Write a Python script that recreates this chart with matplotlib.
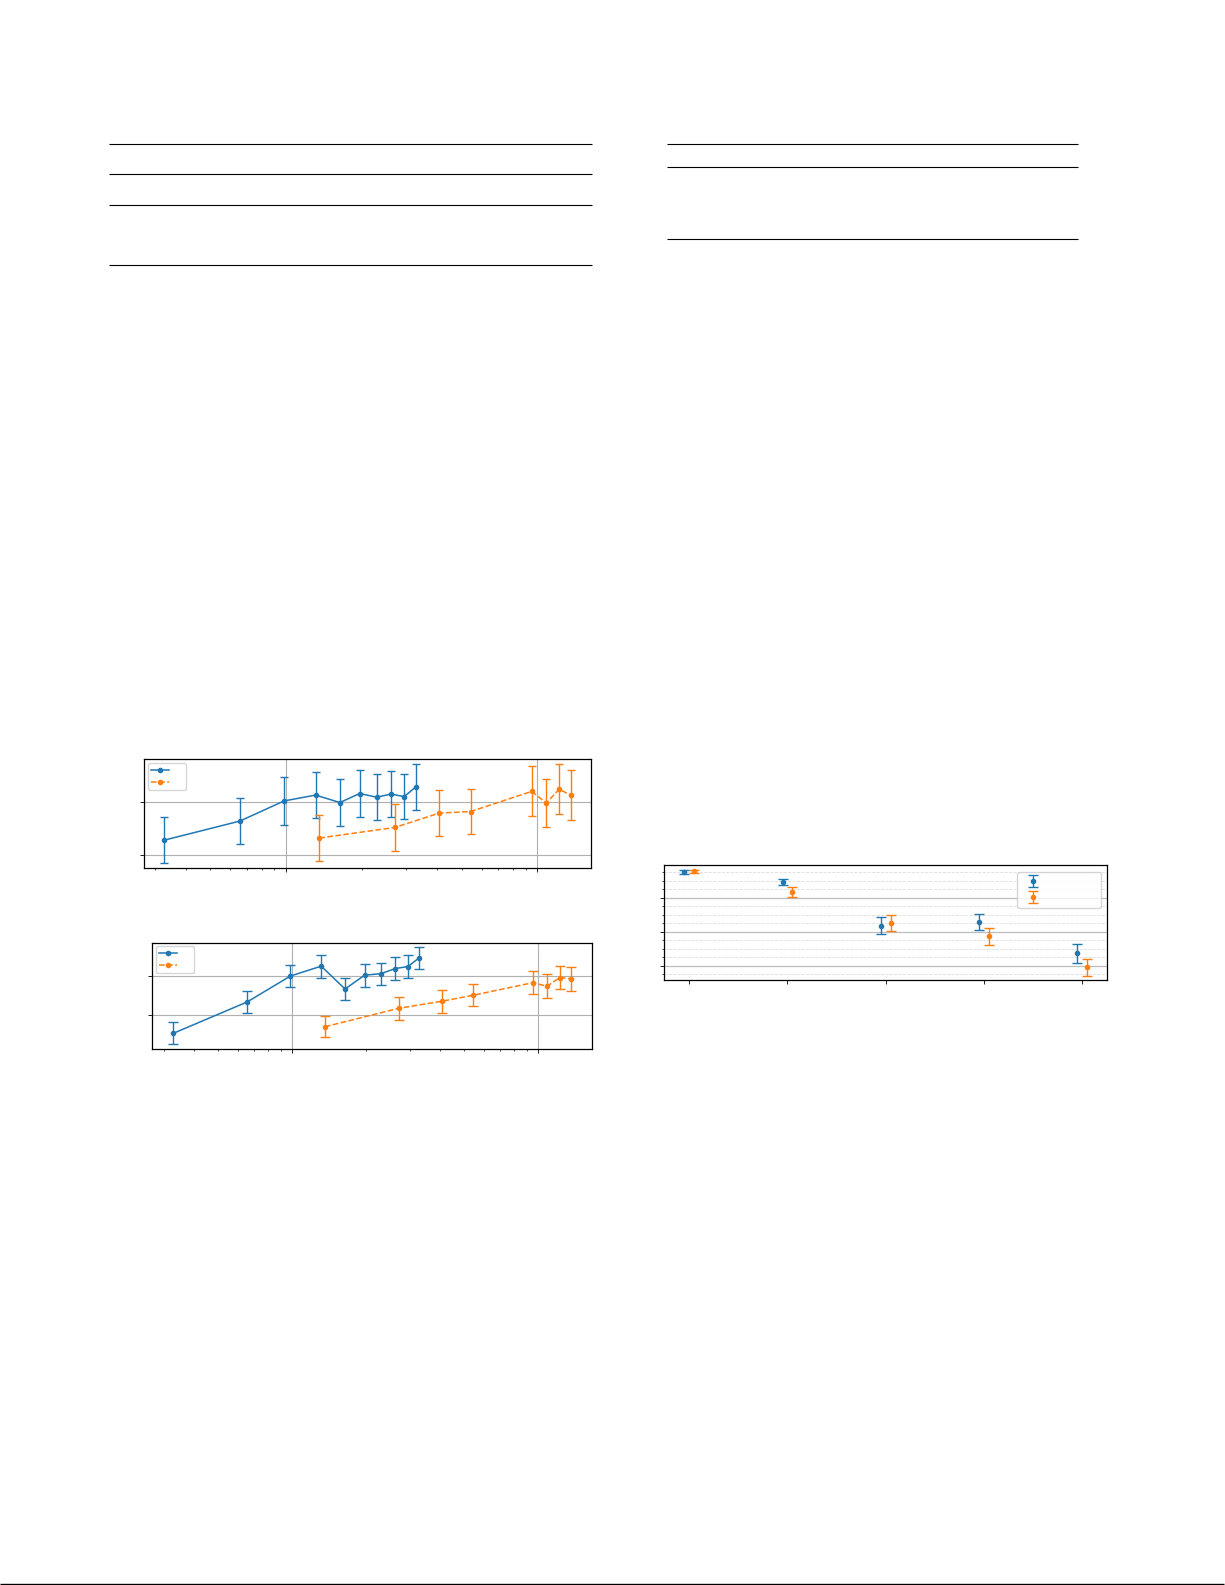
import numpy as np
import matplotlib
matplotlib.use('Agg')
import matplotlib.pyplot as plt
from matplotlib.ticker import MultipleLocator, NullFormatter

# --------- DATA ----------
# context sizes (x, log scale) shared by both line charts
ctx_a = np.arange(1, 11) * 32768
ctx_b = np.array([1, 2, 3, 4, 7, 8, 9, 10]) * 135700

# upper line chart
top_a = [0.528, 0.564, 0.602, 0.613, 0.599, 0.616, 0.609, 0.615, 0.610, 0.628]
top_a_err = [0.043, 0.044, 0.045, 0.043, 0.045, 0.044, 0.043, 0.043, 0.043, 0.044]
top_b = [0.532, 0.552, 0.579, 0.582, 0.620, 0.598, 0.624, 0.613]
top_b_err = [0.043, 0.044, 0.043, 0.043, 0.047, 0.046, 0.047, 0.047]

# lower line chart
bot_a = [0.454, 0.534, 0.600, 0.625, 0.567, 0.602, 0.606, 0.619, 0.624, 0.646]
bot_a_err = [0.028, 0.028, 0.028, 0.029, 0.028, 0.029, 0.028, 0.029, 0.029, 0.029]
bot_b = [0.471, 0.518, 0.536, 0.551, 0.583, 0.574, 0.596, 0.593]
bot_b_err = [0.027, 0.029, 0.029, 0.028, 0.029, 0.031, 0.029, 0.031]

# category chart (right column)
cats = ['c1', 'c2', 'c3', 'c4', 'c5']
cat_a = [0.976, 0.948, 0.819, 0.830, 0.737]
cat_a_err = [0.005, 0.009, 0.026, 0.024, 0.028]
cat_b = [0.978, 0.917, 0.827, 0.787, 0.696]
cat_b_err = [0.005, 0.015, 0.024, 0.025, 0.025]

# table rules on the page (pixels)
left_rules = [144.3, 174.3, 205.3, 265.0]
right_rules = [144.3, 167.3, 239.0]
# -------------------------

W, H = 1225, 1585
BLUE, ORANGE = '#1f77b4', '#ff7f0e'

fig = plt.figure(figsize=(W / 100, H / 100), dpi=100)

# page layer in pixel coordinates
page = fig.add_axes([0, 0, 1, 1], zorder=-1)
page.set_xlim(0, W)
page.set_ylim(H, 0)
page.axis('off')
page.hlines(left_rules, 109, 592, color='black', lw=0.8)
page.hlines(right_rules, 667, 1078, color='black', lw=0.8)
page.hlines([1584.3], 0, 1224, color='black', lw=1.0)


def box(x0, y0, x1, y1):
    return [x0 / W, 1 - y1 / H, (x1 - x0) / W, (y1 - y0) / H]


def style(ax):
    for s in ax.spines.values():
        s.set_linewidth(0.9)
    ax.tick_params(which='major', length=3, width=0.6, labelleft=False, labelbottom=False)
    ax.tick_params(which='minor', length=1.6, width=0.5, labelleft=False, labelbottom=False)


def line_chart(rect, ya, ea, yb, eb, xlim, ylim, leg_box, cap):
    ax = fig.add_axes(rect)
    ha = ax.errorbar(ctx_a, ya, yerr=ea, fmt='-o', color=BLUE, ms=3, lw=1.1,
                     elinewidth=1.0, capsize=cap)
    hb = ax.errorbar(ctx_b, yb, yerr=eb, fmt='--o', color=ORANGE, ms=3, lw=1.1,
                     elinewidth=1.0, capsize=cap)
    ax.set_xscale('log')
    ax.set_xlim(*xlim)
    ax.set_ylim(*ylim)
    ax.set_yticks([0.5, 0.6])
    ax.xaxis.set_minor_formatter(NullFormatter())
    ax.grid(True, color='#b0b0b0', lw=0.8)
    style(ax)
    ax.legend([ha[0], hb[0]], ['', ''], loc='upper left', bbox_to_anchor=leg_box,
              mode='expand', borderaxespad=0, fontsize=6.5, labelspacing=0.3,
              borderpad=0.35)
    return ax


line_chart(box(144, 759.3, 591, 868), top_a, top_a_err, top_b, top_b_err,
           (27230, 1635000), (0.4755, 0.6805), (0.009, 0, 0.085, 0.966), 3.1)

line_chart(box(152.3, 942.7, 591.7, 1049), bot_a, bot_a_err, bot_b, bot_b_err,
           (26980, 1647800), (0.4144, 0.6847), (0.009, 0, 0.085, 0.966), 3.3)

# category chart
ax3 = fig.add_axes(box(664.3, 865, 1107, 980))
xc = np.arange(len(cats))
e1 = ax3.errorbar(xc - 0.05, cat_a, yerr=cat_a_err, fmt='o', color=BLUE, ms=3,
                  elinewidth=1.0, capsize=3.6)
e2 = ax3.errorbar(xc + 0.05, cat_b, yerr=cat_b_err, fmt='o', color=ORANGE, ms=3,
                  elinewidth=1.0, capsize=3.6)
ax3.set_xticks(xc)
ax3.set_xticklabels(['' for _ in cats])
ax3.set_ylim(0.6588, 0.997)
ax3.yaxis.set_major_locator(MultipleLocator(0.1))
ax3.yaxis.set_minor_locator(MultipleLocator(0.025))
ax3.grid(True, axis='y', which='major', color='#bdbdbd', lw=0.9)
ax3.grid(True, axis='y', which='minor', color='#dddddd', lw=0.6, ls='--')
style(ax3)
ax3.legend([e1, e2], ['', ''], loc='upper left', bbox_to_anchor=(0.797, 0, 0.19, 0.939),
           mode='expand', borderaxespad=0, fontsize=8.6, labelspacing=0.25,
           borderpad=0.3)

fig.savefig('out.png', dpi=100)
